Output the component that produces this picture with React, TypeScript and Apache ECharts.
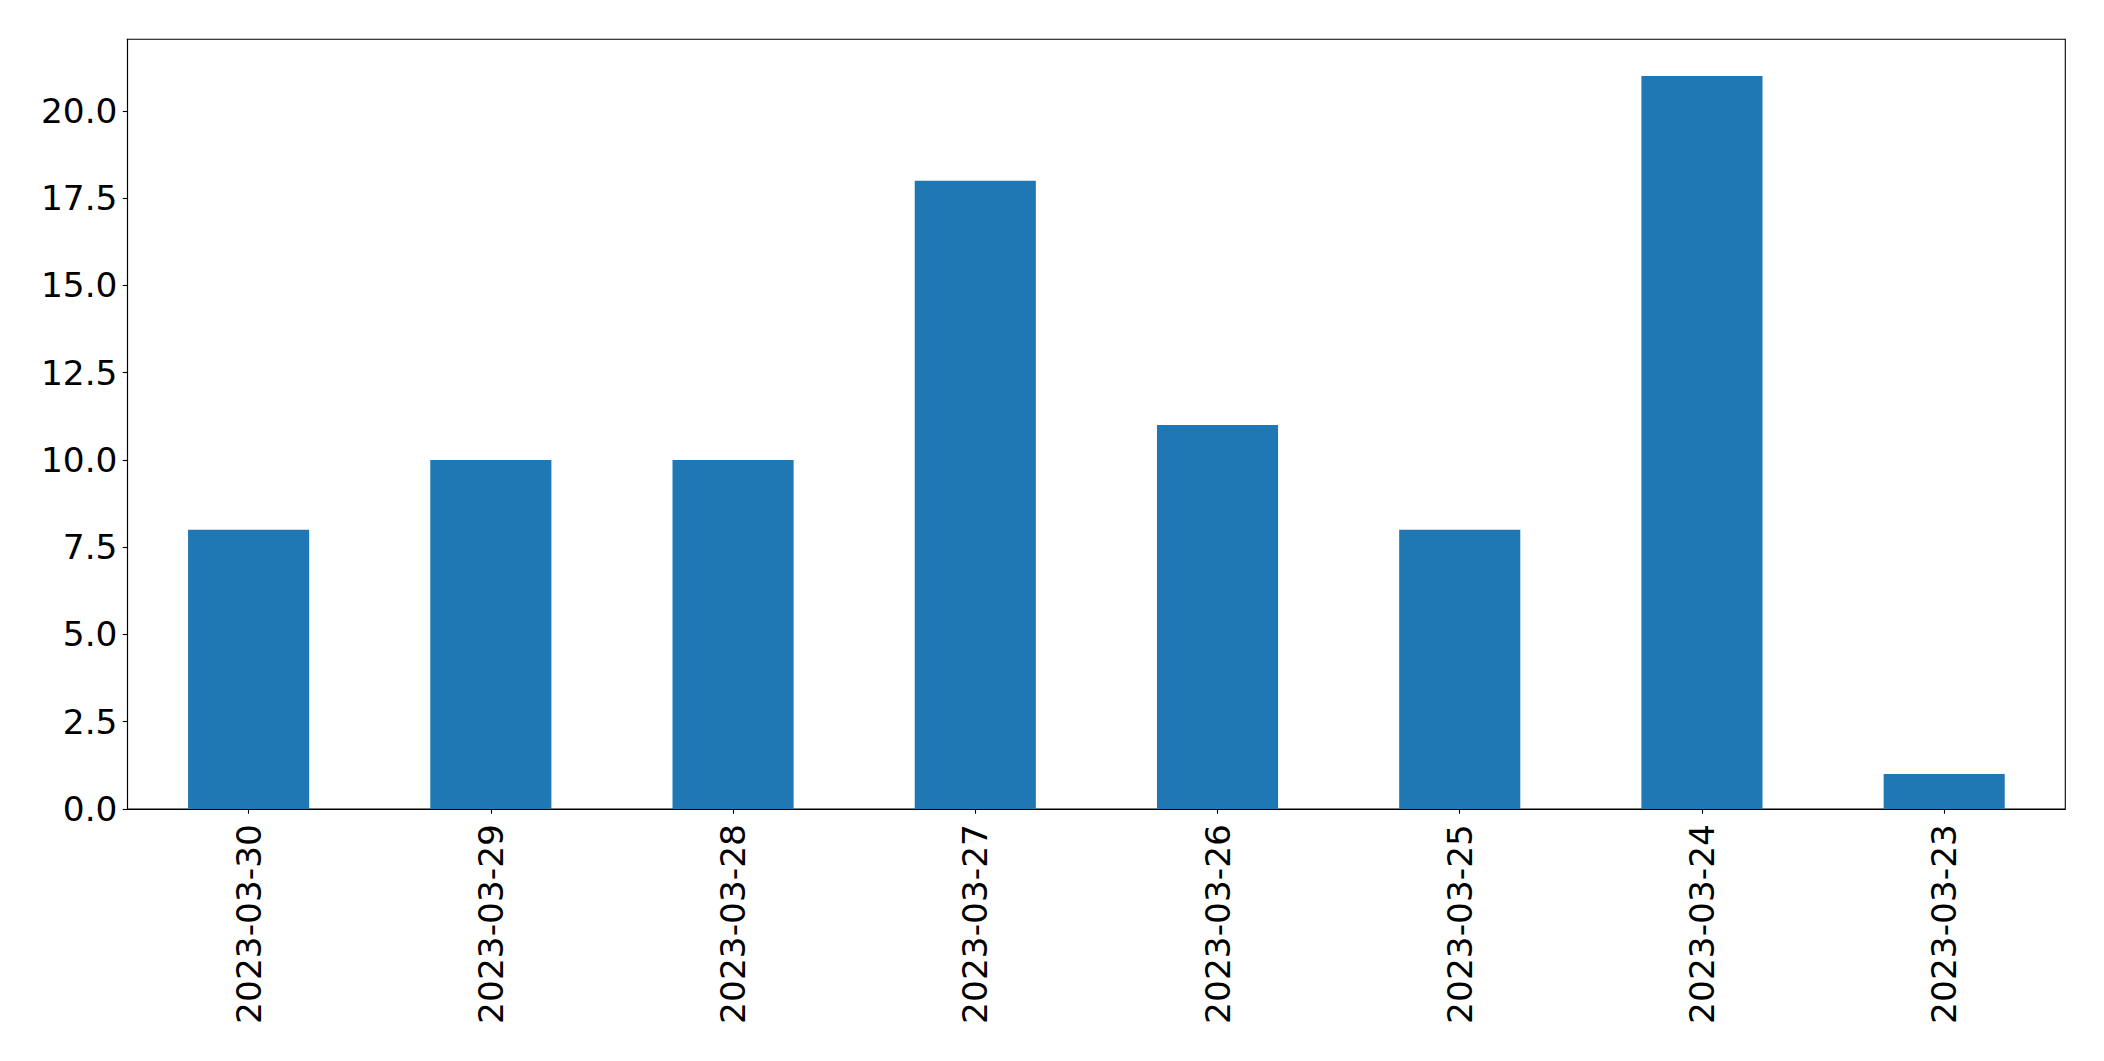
import React, { useEffect, useRef } from "react";
import * as echarts from "echarts";

const categories = ["2023-03-30", "2023-03-29", "2023-03-28", "2023-03-27", "2023-03-26", "2023-03-25", "2023-03-24", "2023-03-23"];
const values = [8, 10, 10, 18, 11, 8, 21, 1];
const yTicks = [0, 2.5, 5, 7.5, 10, 12.5, 15, 17.5, 20];
const yMax = 22.05;

export default function App() {
  const ref = useRef<HTMLDivElement>(null);
  useEffect(() => {
    document.body.style.margin = "0";
    const chart = echarts.init(ref.current!, null, { renderer: "svg" });
    const font = "DejaVu Sans";
    chart.setOption({
      animation: false,
      backgroundColor: "#ffffff",
      grid: {
        left: 127.5,
        top: 39.3,
        right: 38.7,
        bottom: 252,
        show: true,
        borderColor: "#000000",
        borderWidth: 1.1,
        containLabel: false,
      },
      xAxis: {
        type: "category",
        data: categories,
        boundaryGap: true,
        axisLine: { show: true, lineStyle: { color: "#000000", width: 1.1 } },
        axisTick: { show: true, alignWithLabel: true, length: 4.7, lineStyle: { color: "#000000", width: 1.1 } },
        axisLabel: {
          rotate: 90,
          margin: 15,
          fontFamily: font,
          fontSize: 34.4,
          color: "#000000",
          interval: 0,
        },
        splitLine: { show: false },
      },
      yAxis: {
        type: "value",
        min: 0,
        max: yMax,
        interval: 2.5,
        axisLine: { show: true, lineStyle: { color: "#000000", width: 1.1 } },
        axisTick: { show: true, length: 4.7, customValues: yTicks, lineStyle: { color: "#000000", width: 1.1 } },
        axisLabel: {
          customValues: yTicks,
          margin: 10,
          fontFamily: font,
          fontSize: 34.4,
          color: "#000000",
          formatter: (v: number) => v.toFixed(1),
        },
        splitLine: { show: false },
      },
      series: [
        {
          type: "bar",
          data: values,
          barWidth: "50%",
          itemStyle: { color: "#1f77b4" },
        },
      ],
    });
    return () => chart.dispose();
  }, []);
  return <div ref={ref} style={{ position: "fixed", left: 0, top: 0, width: 2104, height: 1061 }} />;
}
